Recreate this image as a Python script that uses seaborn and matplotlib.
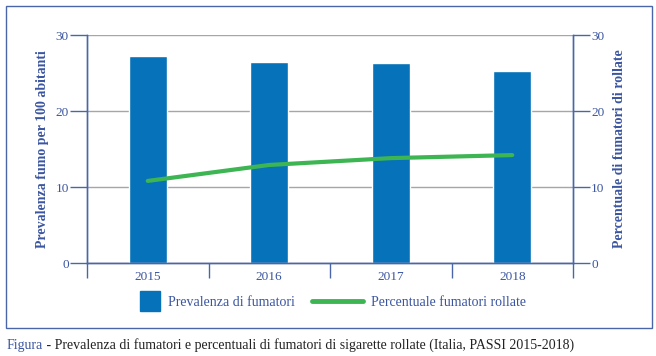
import numpy as np
import pandas as pd
import matplotlib
matplotlib.use('Agg')
import matplotlib.pyplot as plt
import seaborn as sns
from matplotlib.lines import Line2D
from matplotlib.patches import Rectangle

sns.set_theme(style='white')
plt.rcParams['font.family'] = ['Liberation Serif', 'DejaVu Serif']

## Data.
years = ['2015', '2016', '2017', '2018']
prevalenza = [27.2, 26.4, 26.3, 25.3]
rollate = [10.8, 12.9, 13.8, 14.2]

## Styles.
barcolor = '#0572b9'
linecolor = '#3db553'
axiscolor = '#4a66a8'
labelcolor = '#3b55a0'
gridcolor = '#a6a6a6'

df = pd.DataFrame({'anno': years, 'prev': prevalenza, 'roll': rollate})
df['pos'] = np.arange(len(years))

## Canvas.
fig = plt.figure(figsize=(6.56, 3.56), dpi=100)
ax = fig.add_axes([87/656, 1-263/356, 486/656, 228/356])

## Bars.
sns.barplot(x='anno', y='prev', data=df, color=barcolor, width=0.31,
            saturation=1, ax=ax, zorder=2)

## Line on twin axis.
ax2 = ax.twinx()
sns.lineplot(x='pos', y='roll', data=df, color=linecolor, lw=3, ax=ax2,
             zorder=3)

for a in (ax, ax2):
    a.set_ylim(0, 30)
    a.set_yticks([0, 10, 20, 30])
    a.set_xlim(-0.5, 3.5)
    a.set_ylabel('')
    a.set_xlabel('')
    for s in a.spines.values():
        s.set_color(axiscolor)
        s.set_linewidth(1)
    a.spines['top'].set_visible(False)

ax.yaxis.grid(True, color=gridcolor, lw=1, zorder=0)
ax.set_axisbelow(True)
ax2.grid(False)

## Ticks.
ax.tick_params(axis='y', left=True, length=12, width=1, color=axiscolor,
               labelcolor=labelcolor, labelsize=9.5, pad=1)
ax2.tick_params(axis='y', right=True, length=12, width=1, color=axiscolor,
                labelcolor=labelcolor, labelsize=9.5, pad=1)
ax.set_xticks(np.arange(len(years)))
ax.set_xticklabels(years)
ax.tick_params(axis='x', bottom=False, labelcolor=labelcolor, labelsize=9.5, pad=0)
ax.set_xticks(np.arange(-0.5, 4, 1), minor=True)
ax.tick_params(axis='x', which='minor', bottom=True, length=11, width=1,
               color=axiscolor, direction='out')
ax2.tick_params(axis='x', bottom=False, labelbottom=False)

## Axis labels.
ax.set_ylabel('Prevalenza fumo per 100 abitanti', color=labelcolor, fontsize=10,
              fontweight='bold', labelpad=4.5)
ax2.set_ylabel('Percentuale di fumatori di rollate', color=labelcolor, fontsize=10,
               fontweight='bold', labelpad=6.5)

## Legend (two parts, so the square and the line keep their own sizes).
leg_kw = dict(loc='center left', frameon=False, fontsize=10, labelcolor=labelcolor,
              borderpad=0, borderaxespad=0, handletextpad=0.6)
fig.legend([Line2D([], [], marker='s', markersize=14.5, color=barcolor, ls='none')],
           ['Prevalenza di fumatori'], bbox_to_anchor=(140/656, 1-302/356),
           handlelength=1.45, **leg_kw)
fig.legend([Line2D([], [], color=linecolor, lw=3.5)],
           ['Percentuale fumatori rollate'], bbox_to_anchor=(312/656, 1-302/356),
           handlelength=3.65, **leg_kw)

## Outer frame.
fig.add_artist(Rectangle((6/656, 1-328/356), 646/656, 322/356, transform=fig.transFigure,
                         fill=False, edgecolor=axiscolor, lw=1))

## Caption.
t1 = fig.text(7/656, 1-345/356, 'Figura', color=labelcolor, fontsize=10, va='center')
ax.annotate(' - Prevalenza di fumatori e percentuali di fumatori di sigarette rollate (Italia, PASSI 2015-2018)',
            xy=(1, 0.5), xycoords=t1, va='center', ha='left', color='#222222', fontsize=10,
            annotation_clip=False)

plt.savefig('out.png', dpi=100)
